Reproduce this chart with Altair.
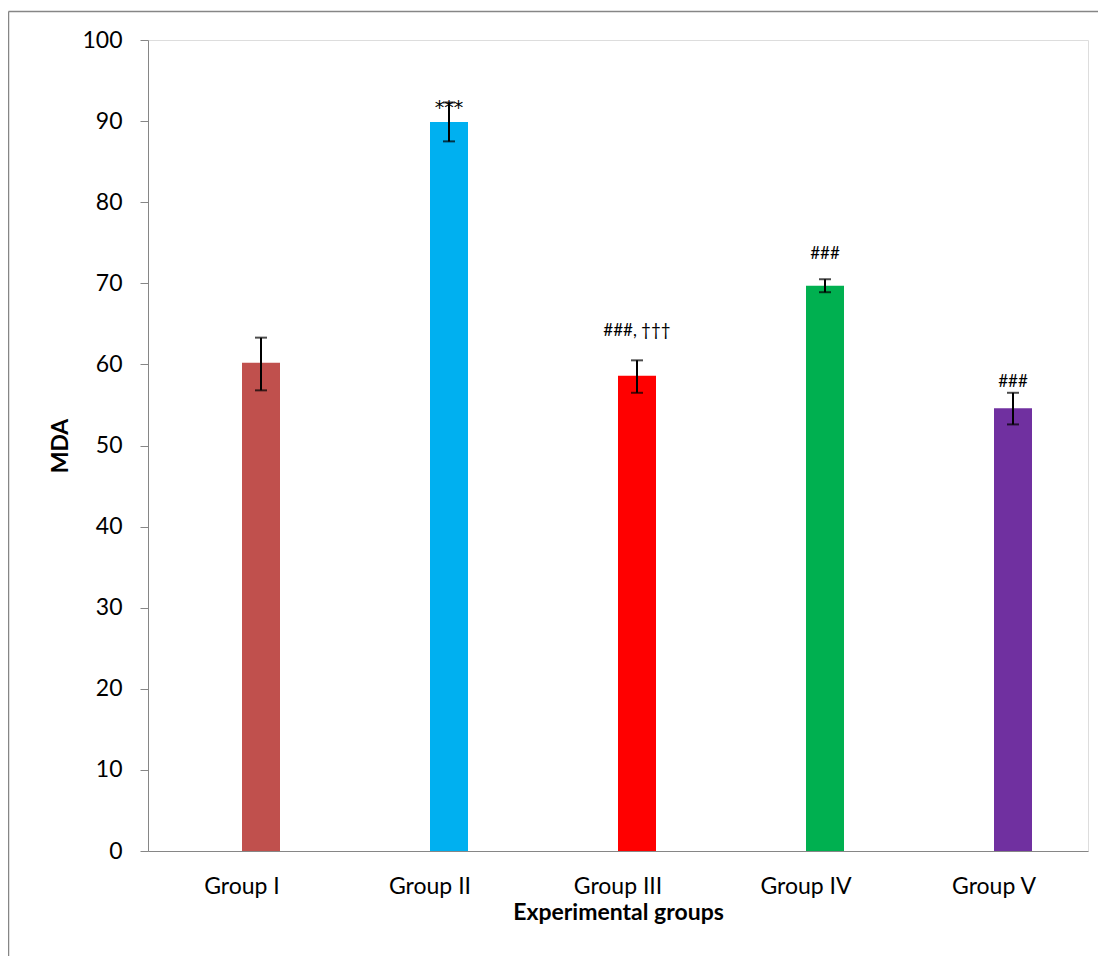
import altair as alt
import pandas as pd

groups = ["Group I", "Group II", "Group III", "Group IV", "Group V"]
mda = [60.2, 89.9, 58.6, 69.7, 54.6]
err_low = [56.8, 87.5, 56.5, 68.9, 52.6]
err_high = [63.3, 92.3, 60.5, 70.5, 56.5]
colors = ["#C0504D", "#00B0F0", "#FF0000", "#00B050", "#7030A0"]
annot = ["", "***", "###, \u2020\u2020\u2020", "###", "###"]
annot_y = [None, 90.9, 63.5, 73.0, 57.2]
y_ticks = [0, 10, 20, 30, 40, 50, 60, 70, 80, 90, 100]

df = pd.DataFrame({
    "group": groups, "mda": mda, "lo": err_low, "hi": err_high,
    "color": colors, "annot": annot, "ay": annot_y,
})

FONT = "Lato"
x = alt.X("group:N", sort=groups,
          scale=alt.Scale(paddingInner=0, paddingOuter=0),
          axis=alt.Axis(title="Experimental groups", labelAngle=0, ticks=False, grid=False,
                        labelPadding=24, titlePadding=3, domainColor="#868686",
                        labelFontSize=23, titleFontSize=23, labelFont=FONT,
                        titleFont=FONT, titleFontWeight="bold",
                        labelColor="black", titleColor="black"))
y = alt.Y("mda:Q", scale=alt.Scale(domain=[0, 100], nice=False),
          axis=alt.Axis(title="MDA", values=y_ticks, grid=False, tickSize=8,
                        tickColor="#868686", domainColor="#868686",
                        labelPadding=18, titlePadding=9,
                        labelFontSize=23, titleFontSize=23, labelFont=FONT,
                        titleFont=FONT, titleFontWeight="bold",
                        labelColor="black", titleColor="black"))

base = alt.Chart(df)
xg = alt.X("group:N", sort=groups)

one = pd.DataFrame({"f": [0]})
frame_left = alt.Chart(one).mark_rule(stroke="#868686", strokeWidth=1.5).encode(
    x=alt.value(-139.5), y=alt.value(-28.5), y2=alt.value(1400))
frame_top = alt.Chart(one).mark_rule(stroke="#868686", strokeWidth=1.5).encode(
    y=alt.value(-28.5), x=alt.value(-139.5), x2=alt.value(1400))

bars = base.mark_bar(width=38, xOffset=19).encode(
    x=x, y=y,
    color=alt.Color("color:N", scale=None),
)
stems = base.mark_rule(color="black", strokeWidth=2, xOffset=19).encode(
    x=xg, y="lo:Q", y2="hi:Q")
cap_lo = base.mark_tick(color="black", size=12, thickness=2, orient="horizontal", xOffset=19).encode(
    x=xg, y="lo:Q")
cap_hi = base.mark_tick(color="black", size=12, thickness=2, orient="horizontal", xOffset=19).encode(
    x=xg, y="hi:Q")
hash_labels = base.transform_filter("datum.annot != '' && datum.annot != '***'").mark_text(
    font=FONT, fontSize=17, color="black", baseline="alphabetic", align="center", xOffset=19
).encode(x=xg, y="ay:Q", text="annot:N")
star_labels = base.transform_filter("datum.annot == '***'").mark_text(
    font="DejaVu Sans", fontSize=19, color="black", baseline="alphabetic", align="center", xOffset=19
).encode(x=xg, y="ay:Q", text="annot:N")

chart = alt.layer(frame_left, frame_top, bars, stems, cap_lo, cap_hi, hash_labels, star_labels).properties(
    width=940, height=811,
    autosize=alt.AutoSizeParams(type="none"),
    padding={"left": 140, "top": 32, "right": 10, "bottom": 105},
).configure_view(stroke="white", strokeWidth=2, fill="white").configure_axis(grid=False).configure(background="white")

chart.save("out.html", embed_options={"renderer": "svg", "actions": False})
